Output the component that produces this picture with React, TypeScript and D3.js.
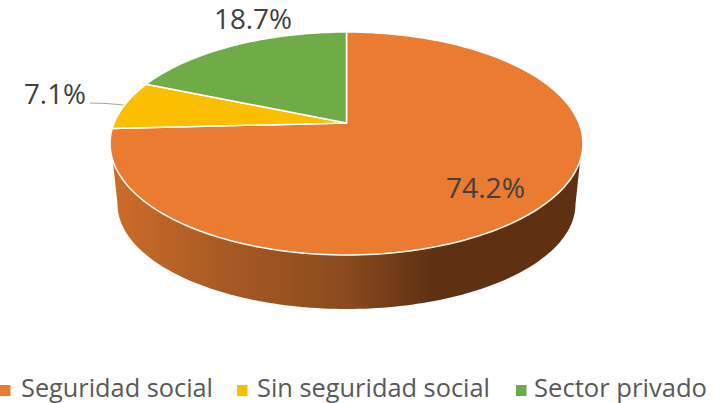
import React from "react";
import * as d3 from "d3";

const categories = ["Seguridad social", "Sin seguridad social", "Sector privado"];
const values = [74.2, 7.1, 18.7];
const valueLabels = ["74.2%", "7.1%", "18.7%"];
const colors = ["#EA7B31", "#FCBE00", "#6FAC47"];

const W = 719, H = 403;
const cx = 346.5, apexY = 123;
const Rx = 232.4, Ry = 107.7, persp = 0.1838;
const wallBottom = { cy: 204, rx: 229, ry: 105 };
const wallSweep = [0.606, 1.394];

const project = (t: number): [number, number] => {
  const u = Math.sin(t), v = Math.cos(t), w = 1 + persp * v;
  return [cx + (Rx * u) / w, apexY - (Ry * v) / w];
};
const line = d3.line();

const arcs = d3.pie<number>().sort(null)(values);

const slicePath = (a0: number, a1: number) => {
  const n = Math.max(8, Math.ceil((a1 - a0) * 40));
  const pts = d3.range(n + 1).map((i) => project(a0 + ((a1 - a0) * i) / n));
  return line([[cx, apexY], ...pts, [cx, apexY]])! + "Z";
};

const wallPath = () => {
  const top = d3.range(0, 121).map((i) => {
    const a = Math.PI * (wallSweep[0] + (i / 120) * (wallSweep[1] - wallSweep[0]));
    return project(a);
  });
  const low = d3.range(0, 121).map((i) => {
    const a = Math.PI * (1 - i / 120);
    return [cx + wallBottom.rx * Math.cos(a), wallBottom.cy + wallBottom.ry * Math.sin(a)] as [number, number];
  });
  return line([...top, ...low])! + "Z";
};

const legendLayout = [
  { sx: 0, tx: 21, tw: 192 },
  { sx: 237, tx: 257, tw: 233 },
  { sx: 516, tx: 534, tw: 173 },
];
const labelLayout = [
  { x: 446, y: 198, w: 79 },
  { x: 24, y: 104, w: 62 },
  { x: 214, y: 29, w: 78 },
];
const font = "'Open Sans', 'Noto Sans', sans-serif";

export default function App() {
  return (
    <svg width={W} height={H} style={{ position: "absolute", left: 0, top: 0, background: "#fff" }}>
      <defs>
        <linearGradient id="wall" gradientUnits="userSpaceOnUse" x1={110} x2={583} y1={0} y2={0}>
          <stop offset="0" stopColor="#CC6C2A" />
          <stop offset="0.24" stopColor="#A85A24" />
          <stop offset="0.5" stopColor="#8A4A1D" />
          <stop offset="0.68" stopColor="#5F3112" />
          <stop offset="1" stopColor="#5F3112" />
        </linearGradient>
      </defs>
      <path d={wallPath()} fill="url(#wall)" />
      {arcs.map((a, i) => (
        <path key={i} d={slicePath(a.startAngle, a.endAngle)} fill={colors[i]} stroke="#fff" strokeWidth={1.5} strokeLinejoin="round" />
      ))}
      <path d="M90,103 C105,103 115,104 124,105" fill="none" stroke="#A6A6A6" strokeWidth={1.2} />
      {valueLabels.map((t, i) => (
        <text key={t} x={labelLayout[i].x} y={labelLayout[i].y} fontFamily={font} fontSize={28} fill="#404040"
          textLength={labelLayout[i].w} lengthAdjust="spacingAndGlyphs">{t}</text>
      ))}
      {categories.map((c, i) => (
        <g key={c}>
          <rect x={legendLayout[i].sx} y={385} width={10.5} height={11} fill={colors[i]} />
          <text x={legendLayout[i].tx} y={396.5} fontFamily={font} fontSize={25} fill="#595959"
            textLength={legendLayout[i].tw} lengthAdjust="spacingAndGlyphs">{c}</text>
        </g>
      ))}
    </svg>
  );
}
